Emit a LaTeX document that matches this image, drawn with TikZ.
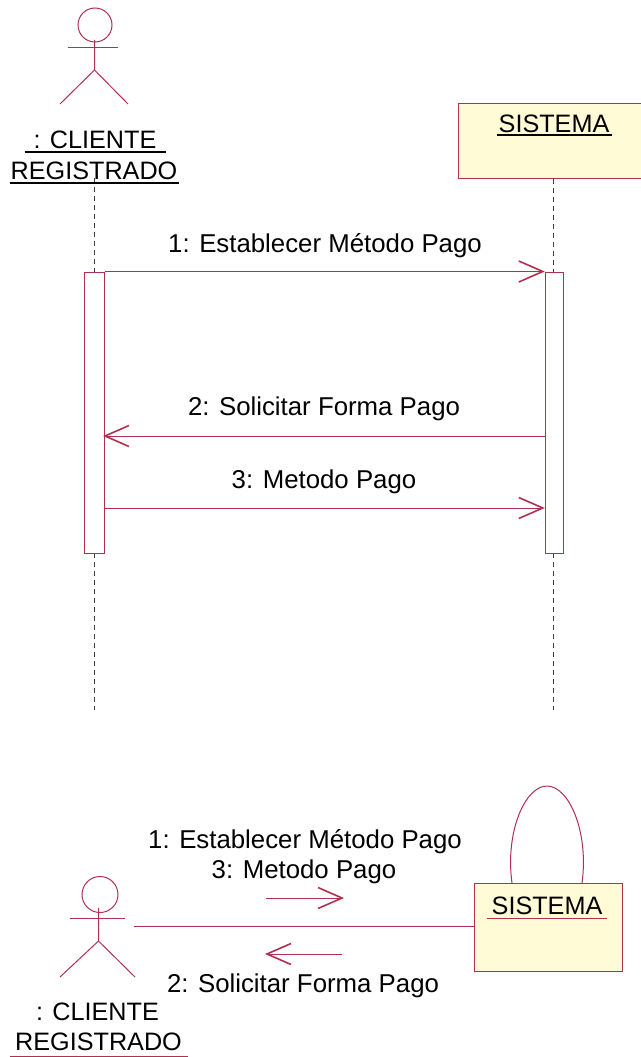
\documentclass[tikz,border=0pt]{standalone}
\usepackage{fontspec}
\setmainfont{Liberation Sans}
\usetikzlibrary{arrows.meta}
\definecolor{umlred}{HTML}{B03050}
\definecolor{umlfill}{HTML}{FFFBD6}
\begin{document}
\begin{tikzpicture}[x=1pt, y=-1pt, line width=1pt,
    txt/.style={anchor=base, inner xsep=0pt, inner ysep=0pt, font=\fontsize{25.8}{30}\selectfont},
    objname/.style={txt, font=\fontsize{25.2}{30}\selectfont},
    obj/.style={draw=umlred, fill=umlfill, inner sep=0pt},
    activ/.style={draw=umlred, fill=white, inner sep=0pt, minimum height=281pt},
    head/.style={draw=umlred, circle, inner sep=0pt},
    link/.style={draw=umlred},
    msg/.style={draw=umlred, -{Straight Barb[length=24pt, width=21pt, line width=1.6pt]}},
    life/.style={draw=black!75, dash pattern=on 5pt off 4pt}]
  \useasboundingbox (0,0) rectangle (640,1057);

  % Nodes
  \node[obj, minimum width=184pt, minimum height=75pt] (S) at (550,140.5) {};
  \node[objname, minimum width=114pt] (Sname) at (554,132) {SISTEMA};
  \node[objname, minimum width=140pt] (Ca) at (95,148) {: CLIENTE};
  \node[objname, minimum width=168pt] (Cb) at (94,179) {REGISTRADO};
  \node[head, minimum size=34pt] (Chead) at (95,25) {};
  \coordinate (Cneck) at (94.5,40);
  \coordinate (Chip) at (94.5,70);
  \coordinate (Cal) at (68,48);
  \coordinate (Car) at (118,48);
  \coordinate (Cll) at (60,104);
  \coordinate (Clr) at (128,104);
  \coordinate (Ctop) at (94,178);
  \coordinate (Cend) at (94,710);
  \coordinate (Send) at (553,710);

  % Lifelines
  \draw[life] (Ctop) -- (Ctop |- 0,272);
  \draw[life] (Ctop |- 0,553) -- (Cend);
  \draw[life] (S.south -| Send) -- (Send |- 0,272);
  \draw[life] (Send |- 0,553) -- (Send);

  \node[activ, minimum width=20pt] (Cact) at (94.5,412.5) {};
  \node[activ, minimum width=18pt] (Sact) at (554.3,412.5) {};

  % Actor
  \draw[link] (Cneck) -- (Chip) -- (Cll);
  \draw[link] (Chip) -- (Clr);
  \draw[link] (Cal) -- (Car);
  \draw[black, line width=1.3pt] ([yshift=-4pt]Ca.base west) -- ([yshift=-4pt]Ca.base east);
  \draw[black, line width=1.3pt] ([yshift=-4pt]Cb.base west) -- ([yshift=-4pt]Cb.base east);
  \draw[black, line width=1.3pt] ([yshift=-3pt]Sname.base west) -- ([yshift=-3pt]Sname.base east);

  % Arrows
  \draw[msg] (Cact.north east) -- (Sact.north west);
  \draw[msg, shorten >=-2pt] (Sact.west |- 0,436) -- (Cact.east |- 0,436);
  \draw[msg] (Cact.east |- 0,508) -- (Sact.west |- 0,508);
  \node[txt] (m1) at (325,252) {1: Establecer Método Pago};
  \node[txt] (m2) at (324,415) {2: Solicitar Forma Pago};
  \node[txt] (m3) at (324,488) {3: Metodo Pago};

  % Collaboration nodes
  \node[obj, minimum width=148pt, minimum height=88pt] (S2) at (548,927) {};
  \node[objname] (S2name) at (547,914) {SISTEMA};
  \node[objname, minimum width=177pt] (C2a) at (97.5,1020) {: CLIENTE};
  \node[objname, minimum width=177pt] (C2b) at (98.5,1050) {REGISTRADO};
  \node[head, minimum size=36pt] (C2head) at (100,894.5) {};
  \coordinate (C2neck) at (98.5,908);
  \coordinate (C2hip) at (98.5,941);
  \coordinate (C2al) at (70,918.5);
  \coordinate (C2ar) at (125,918.5);
  \coordinate (C2ll) at (60,977);
  \coordinate (C2lr) at (135,977);
  \coordinate (C2free) at (134,926);
  \coordinate (Lleft) at (512,883);
  \coordinate (Lright) at (582,883);
  \coordinate (Ltop) at (547,786);
  \coordinate (Ua) at (266,898);
  \coordinate (Ub) at (344,898);
  \coordinate (Va) at (342,954);
  \coordinate (Vb) at (265,954);
  \coordinate (Sua) at (487,918);
  \coordinate (Sub) at (607,918);

  \draw[link] (C2neck) -- (C2hip) -- (C2ll);
  \draw[link] (C2hip) -- (C2lr);
  \draw[link] (C2al) -- (C2ar);
  \draw[link] ([yshift=-6pt]C2b.base west) -- ([yshift=-6pt]C2b.base east);
  \draw[link] (Sua) -- (Sub);

  % Links
  \draw[link] (Lleft) .. controls (505,832) and (525,786) .. (Ltop)
    .. controls (569,786) and (589,832) .. (Lright);
  \draw[link] (C2free) -- (S2.west |- C2free);
  \draw[msg] (Ua) -- (Ub);
  \draw[msg] (Va) -- (Vb);
  \node[txt] (n1) at (305,848) {1: Establecer Método Pago};
  \node[txt] (n3) at (304,878) {3: Metodo Pago};
  \node[txt] (n2) at (303,992) {2: Solicitar Forma Pago};
\end{tikzpicture}
\end{document}
